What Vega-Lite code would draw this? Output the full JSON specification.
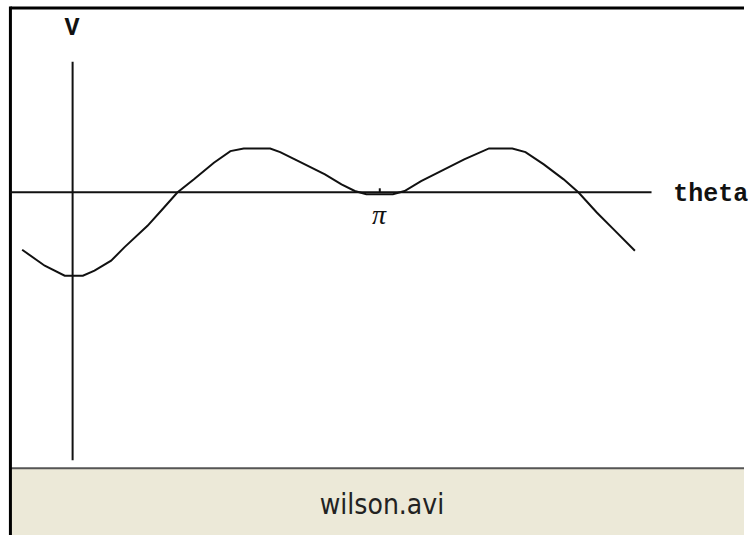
{
  "$schema": "https://vega.github.io/schema/vega-lite/v6.json",
  "width": 748,
  "height": 537,
  "padding": 0,
  "autosize": {"type": "fit", "contains": "padding"},
  "background": "white",
  "config": {"view": {"stroke": null}},
  "datasets": {
    "curve": [
      {"theta": -0.516, "V": -1.154},
      {"theta": -0.285, "V": -1.474},
      {"theta": -0.081, "V": -1.674},
      {"theta": 0.105, "V": -1.674},
      {"theta": 0.224, "V": -1.574},
      {"theta": 0.394, "V": -1.374},
      {"theta": 0.529, "V": -1.106},
      {"theta": 0.766, "V": -0.674},
      {"theta": 0.919, "V": -0.34},
      {"theta": 1.071, "V": -0.006},
      {"theta": 1.241, "V": 0.26},
      {"theta": 1.445, "V": 0.594},
      {"theta": 1.614, "V": 0.826},
      {"theta": 1.75, "V": 0.88},
      {"theta": 2.021, "V": 0.88},
      {"theta": 2.123, "V": 0.806},
      {"theta": 2.309, "V": 0.626},
      {"theta": 2.581, "V": 0.36},
      {"theta": 2.75, "V": 0.16},
      {"theta": 2.886, "V": 0.026},
      {"theta": 3.004, "V": -0.04},
      {"theta": 3.276, "V": -0.04},
      {"theta": 3.395, "V": 0.026},
      {"theta": 3.564, "V": 0.226},
      {"theta": 3.767, "V": 0.426},
      {"theta": 4.005, "V": 0.66},
      {"theta": 4.259, "V": 0.88},
      {"theta": 4.497, "V": 0.88},
      {"theta": 4.632, "V": 0.806},
      {"theta": 4.819, "V": 0.56},
      {"theta": 5.022, "V": 0.26},
      {"theta": 5.175, "V": -0.006},
      {"theta": 5.361, "V": -0.406},
      {"theta": 5.531, "V": -0.74},
      {"theta": 5.751, "V": -1.174}
    ]
  },
  "layer": [
    {
      "data": {"values": [{"x1": -0.64, "x2": 6.8667, "y1": -5.54, "y2": -6.88}]},
      "mark": {"type": "rect", "fill": "#ECE9D8"},
      "encoding": {
        "x": {"field": "x1", "type": "quantitative", "scale": {"domain": [-0.7426, 6.8667], "nice": false, "zero": false}, "axis": null},
        "x2": {"field": "x2"},
        "y": {"field": "y1", "type": "quantitative", "scale": {"domain": [-6.88, 3.86], "nice": false, "zero": false}, "axis": null},
        "y2": {"field": "y2"}
      }
    },
    {
      "data": {"values": [
        {"x1": -0.64, "x2": 6.8667, "y1": -5.54, "y2": -5.54, "w": "bar"},
        {"x1": -0.636, "x2": 6.8667, "y1": 3.7, "y2": 3.7, "w": "frame"},
        {"x1": -0.636, "x2": -0.636, "y1": 3.73, "y2": -6.88, "w": "frame"}
      ]},
      "mark": {"type": "rule"},
      "encoding": {
        "x": {"field": "x1", "type": "quantitative", "scale": {"domain": [-0.7426, 6.8667], "nice": false, "zero": false}, "axis": null},
        "x2": {"field": "x2"},
        "y": {"field": "y1", "type": "quantitative", "scale": {"domain": [-6.88, 3.86], "nice": false, "zero": false}, "axis": null},
        "y2": {"field": "y2"},
        "color": {"field": "w", "type": "nominal", "scale": {"domain": ["bar", "frame"], "range": ["#555555", "#000000"]}, "legend": null},
        "strokeWidth": {"field": "w", "type": "nominal", "scale": {"domain": ["bar", "frame"], "range": [2, 3]}, "legend": null}
      }
    },
    {
      "data": {"values": [
        {"x1": -0.641, "x2": 5.921, "y1": 0, "y2": 0},
        {"x1": 0, "x2": 0, "y1": 2.62, "y2": -5.38},
        {"x1": 3.1416, "x2": 3.1416, "y1": 0, "y2": 0.08}
      ]},
      "mark": {"type": "rule", "color": "#111111", "strokeWidth": 2},
      "encoding": {
        "x": {"field": "x1", "type": "quantitative", "scale": {"domain": [-0.7426, 6.8667], "nice": false, "zero": false}, "axis": null},
        "x2": {"field": "x2"},
        "y": {"field": "y1", "type": "quantitative", "scale": {"domain": [-6.88, 3.86], "nice": false, "zero": false}, "axis": null},
        "y2": {"field": "y2"}
      }
    },
    {
      "data": {"name": "curve"},
      "mark": {"type": "line", "color": "#111111", "strokeWidth": 2, "interpolate": "linear"},
      "encoding": {
        "x": {"field": "theta", "type": "quantitative", "scale": {"domain": [-0.7426, 6.8667], "nice": false, "zero": false}, "axis": null},
        "y": {"field": "V", "type": "quantitative", "scale": {"domain": [-6.88, 3.86], "nice": false, "zero": false}, "axis": null}
      }
    },
    {
      "data": {"values": [{"label": "wilson.avi", "theta": 3.164, "V": -6.46}]},
      "mark": {"type": "text", "font": "DejaVu Sans Condensed", "fontSize": 28, "color": "#222222", "align": "center", "baseline": "alphabetic"},
      "encoding": {
        "x": {"field": "theta", "type": "quantitative", "scale": {"domain": [-0.7426, 6.8667], "nice": false, "zero": false}, "axis": null},
        "y": {"field": "V", "type": "quantitative", "scale": {"domain": [-6.88, 3.86], "nice": false, "zero": false}, "axis": null},
        "text": {"field": "label"}
      }
    },
    {
      "data": {"values": [{"label": "V", "theta": -0.005, "V": 3.16}]},
      "mark": {"type": "text", "font": "Liberation Mono", "fontWeight": "bold", "fontSize": 25, "color": "#111111", "align": "center", "baseline": "alphabetic"},
      "encoding": {
        "x": {"field": "theta", "type": "quantitative", "scale": {"domain": [-0.7426, 6.8667], "nice": false, "zero": false}, "axis": null},
        "y": {"field": "V", "type": "quantitative", "scale": {"domain": [-6.88, 3.86], "nice": false, "zero": false}, "axis": null},
        "text": {"field": "label"}
      }
    },
    {
      "data": {"values": [{"label": "theta", "theta": 6.144, "V": -0.18}]},
      "mark": {"type": "text", "font": "Liberation Mono", "fontWeight": "bold", "fontSize": 25, "color": "#111111", "align": "left", "baseline": "alphabetic"},
      "encoding": {
        "x": {"field": "theta", "type": "quantitative", "scale": {"domain": [-0.7426, 6.8667], "nice": false, "zero": false}, "axis": null},
        "y": {"field": "V", "type": "quantitative", "scale": {"domain": [-6.88, 3.86], "nice": false, "zero": false}, "axis": null},
        "text": {"field": "label"}
      }
    },
    {
      "data": {"values": [{"label": "π", "theta": 3.133, "V": -0.64}]},
      "mark": {"type": "text", "font": "Liberation Serif", "fontStyle": "italic", "fontSize": 28, "color": "#111111", "align": "center", "baseline": "alphabetic"},
      "encoding": {
        "x": {"field": "theta", "type": "quantitative", "scale": {"domain": [-0.7426, 6.8667], "nice": false, "zero": false}, "axis": null},
        "y": {"field": "V", "type": "quantitative", "scale": {"domain": [-6.88, 3.86], "nice": false, "zero": false}, "axis": null},
        "text": {"field": "label"}
      }
    }
  ]
}
